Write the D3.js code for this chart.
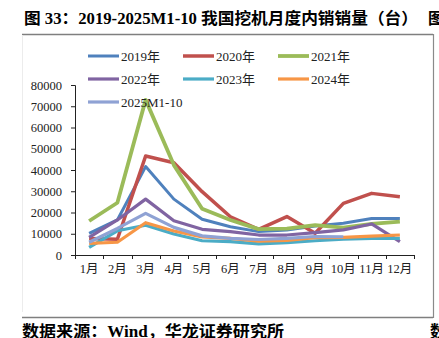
<!DOCTYPE html>
<html><head><meta charset="utf-8">
<script src="https://cdn.jsdelivr.net/npm/d3@7"></script>
<style>body{margin:0;background:#fff}svg{display:block}</style>
</head><body>
<script>
const months = ["1月","2月","3月","4月","5月","6月","7月","8月","9月","10月","11月","12月"];
const seriesNames = ["2019年","2020年","2021年","2022年","2023年","2024年","2025M1-10"];
const colors = ["#4F81BD","#C0504D","#9BBB59","#8064A2","#4BACC6","#F79646","#8FA2D4"];
const widths = [3,3.5,3.8,3.2,3.2,3.2,3.2];
const v2019 = [10200,16500,41600,26300,16800,13300,11000,11800,13600,14900,17200,17200];
const v2020 = [7800,7400,46600,43400,29800,18000,12100,18100,10200,24300,29000,27400];
const v2021 = [16000,24600,73000,42300,21800,16500,12200,12400,14100,12900,14600,15700];
const v2022 = [8300,16500,26300,16100,12100,11000,9400,9400,10500,11800,14600,6300];
const v2023 = [3600,11400,14000,9900,6700,6300,5200,5800,6700,7400,7800,7800];
const v2024 = [5500,6000,15200,11300,8500,7800,6500,6900,8200,8300,8900,9400];
const v2025 = [6000,12500,19600,13000,9000,7800,7300,7800,8700,8600];
const allValues = [v2019,v2020,v2021,v2022,v2023,v2024,v2025];
const yTicks = [0,10000,20000,30000,40000,50000,60000,70000,80000];

const W=439,H=338;
const svg = d3.select("body").append("svg").attr("width",W).attr("height",H);
const serif = "'Liberation Serif','Times New Roman','Noto Sans CJK SC',serif";

// frame
svg.append("line").attr("x1",22).attr("x2",433).attr("y1",34.5).attr("y2",34.5).attr("stroke","#7f7f7f").attr("stroke-width",1.5);
svg.append("line").attr("x1",22).attr("x2",433).attr("y1",317.5).attr("y2",317.5).attr("stroke","#7f7f7f").attr("stroke-width",1.5);
svg.append("line").attr("x1",433.5).attr("x2",433.5).attr("y1",34).attr("y2",318).attr("stroke","#8a8a8a").attr("stroke-width",1.2);
svg.append("line").attr("x1",22.5).attr("x2",22.5).attr("y1",35).attr("y2",312).attr("stroke","#ececec").attr("stroke-width",1);

// title
svg.append("text").attr("x",24).attr("y",24).attr("font-family",serif).attr("font-weight","bold")
  .attr("font-size",16).attr("textLength",394).attr("lengthAdjust","spacingAndGlyphs").attr("fill","#000")
  .text("图 33：2019-2025M1-10 我国挖机月度内销销量（台）");
svg.append("text").attr("x",428).attr("y",24).attr("font-family",serif).attr("font-weight","bold")
  .attr("font-size",16).attr("fill","#000").text("图");
svg.append("text").attr("x",22).attr("y",337).attr("font-family",serif).attr("font-weight","bold")
  .attr("font-size",16).attr("textLength",262).attr("lengthAdjust","spacingAndGlyphs").attr("fill","#000")
  .text("数据来源：Wind，华龙证券研究所");
svg.append("text").attr("x",430).attr("y",337).attr("font-family",serif).attr("font-weight","bold")
  .attr("font-size",16).attr("fill","#000").text("数");

// scales
const x = d3.scaleBand().domain(months).range([75,414]);
const y = d3.scaleLinear().domain([0,80000]).range([255,85]);

const yAxis = svg.append("g").attr("transform","translate(75,0)")
  .call(d3.axisLeft(y).tickValues(yTicks).tickSize(4).tickPadding(9).tickFormat(d3.format("d")));
yAxis.select(".domain").attr("d","M-4,85.5H0.5V255.5");
yAxis.selectAll("text").attr("font-family",serif).attr("font-size",12.5).attr("fill","#222");
yAxis.selectAll("line,path").attr("stroke","#222");

const xAxis = svg.append("g").attr("transform","translate(0,255)");
xAxis.append("line").attr("x1",75).attr("x2",414).attr("y1",0.5).attr("y2",0.5).attr("stroke","#222");
const edges = months.map(m=>x(m)).concat([x(months[11])+x.bandwidth()]);
xAxis.selectAll("line.tk").data(edges).enter().append("line").attr("class","tk")
  .attr("x1",d=>Math.round(d)+0.5).attr("x2",d=>Math.round(d)+0.5).attr("y1",0).attr("y2",4).attr("stroke","#222");
xAxis.selectAll("text").data(months).enter().append("text")
  .attr("x",d=>x(d)+x.bandwidth()/2).attr("y",18).attr("text-anchor","middle")
  .attr("font-family",serif).attr("font-size",12.5).attr("fill","#222").text(d=>d);

// lines
const line = d3.line().x((d,i)=>x(months[i])+x.bandwidth()/2).y(d=>y(d));
allValues.forEach((vals,k)=>{
  svg.append("path").datum(vals).attr("d",line).attr("fill","none")
    .attr("stroke",colors[k]).attr("stroke-width",widths[k]).attr("stroke-linejoin","round");
});

// legend
const legX=[88,183,278], legY=[56,79,102];
seriesNames.forEach((n,k)=>{
  const lx=legX[k%3], ly=legY[Math.floor(k/3)];
  svg.append("line").attr("x1",lx).attr("x2",lx+31).attr("y1",ly).attr("y2",ly)
    .attr("stroke",colors[k]).attr("stroke-width",widths[k]);
  svg.append("text").attr("x",lx+33).attr("y",ly+4.5).attr("font-family",serif).attr("font-size",13)
    .attr("fill","#222").text(n);
});
</script>
</body></html>
